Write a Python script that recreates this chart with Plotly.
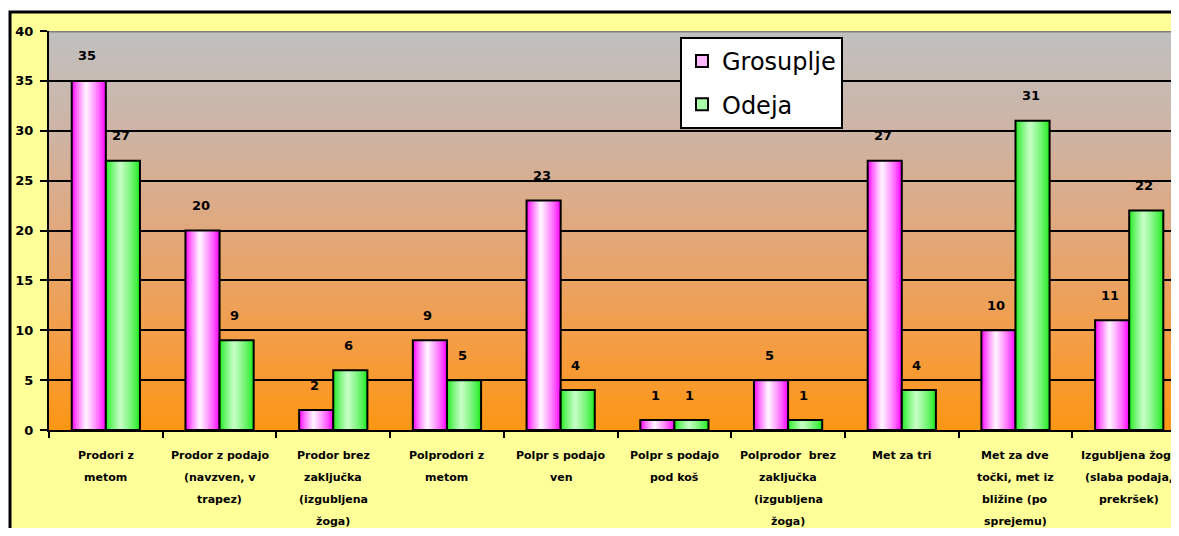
import plotly.graph_objs as go

# Category labels (one list of lines per category)
label_lines = [
    ["Prodori z", "metom"],
    ["Prodor z podajo", "(navzven, v", "trapez)"],
    ["Prodor brez", "zaključka", "(izgubljena", "žoga)"],
    ["Polprodori z", "metom"],
    ["Polpr s podajo", "ven"],
    ["Polpr s podajo", "pod koš"],
    ["Polprodor  brez", "zaključka", "(izgubljena", "žoga)"],
    ["Met za tri"],
    ["Met za dve", "točki, met iz", "bližine (po", "sprejemu)"],
    ["Izgubljena žoga", "(slaba podaja,", "prekršek)"],
]
categories = [" ".join(lines) for lines in label_lines]

grosuplje = [35, 20, 2, 9, 23, 1, 5, 27, 10, 11]
odeja = [27, 9, 6, 5, 4, 1, 1, 4, 31, 22]

y_ticks = [0, 5, 10, 15, 20, 25, 30, 35, 40]

BAR_W = 0.30
N_LAYERS = 14


def mix(c1, c2, t):
    return tuple(round(a + (b - a) * t) for a, b in zip(c1, c2))


def rgb(c):
    return "rgb(%d,%d,%d)" % c


fig = go.Figure()


def add_gradient_bars(values, center, edge_col, mid_col, name, legend_col):
    left = center - BAR_W / 2
    right = center + BAR_W / 2
    for k in range(N_LAYERS):
        t = k / N_LAYERS
        l = left + t * 0.42 * BAR_W
        r = right - t * 0.58 * BAR_W
        fig.add_trace(go.Bar(
            x=categories, y=values,
            offset=l, width=r - l,
            marker=dict(color=rgb(mix(edge_col, mid_col, t ** 0.8)), line=dict(width=0)),
            showlegend=False, hoverinfo='skip'
        ))
    # outline on top
    fig.add_trace(go.Bar(
        x=categories, y=values,
        offset=left, width=BAR_W,
        marker=dict(color='rgba(0,0,0,0)', line=dict(color='black', width=2)),
        showlegend=False, name=name
    ))
    # legend entry
    fig.add_trace(go.Bar(
        x=[None], y=[None], name=name, legendgroup=name,
        marker=dict(color=legend_col, line=dict(color='black', width=2))
    ))


add_gradient_bars(grosuplje, -0.15, (255, 0, 255), (255, 255, 255), 'Grosuplje', '#FFB8FF')
add_gradient_bars(odeja, 0.15, (30, 235, 30), (205, 255, 205), 'Odeja', '#A8FFA8')

# background: yellow chart area with border, gradient plot area
shapes = [dict(type='rect', xref='paper', yref='paper',
               x0=-0.0345, x1=1.1, y0=-0.4, y1=1.0476,
               fillcolor='#FFFF99', line=dict(color='black', width=3), layer='below')]

stops = [(0.0, (252, 150, 20)), (0.25, (242, 158, 75)), (0.5, (225, 168, 125)),
         (0.75, (206, 180, 165)), (1.0, (192, 192, 192))]


def grad(t):
    for (t0, c0), (t1, c1) in zip(stops[:-1], stops[1:]):
        if t <= t1:
            return mix(c0, c1, (t - t0) / (t1 - t0))
    return stops[-1][1]


n_bands = 80
step = 40 / n_bands
for j in range(n_bands):
    y0 = j * step
    y1 = min(40, y0 + 1.6 * step)
    shapes.append(dict(type='rect', xref='paper', yref='y', x0=0, x1=1, y0=y0, y1=y1,
                       fillcolor=rgb(grad((j + 0.5) / n_bands)), line=dict(width=0),
                       layer='below'))

shapes.append(dict(type='line', xref='paper', yref='y', x0=0, x1=1, y0=40, y1=40,
                   line=dict(color='#808080', width=3)))

annotations = []
num_font = dict(family='DejaVu Sans', size=13, color='black', weight='bold')
for i, v in enumerate(grosuplje):
    annotations.append(dict(x=i - 0.15, y=v, xref='x', yref='y', text=str(v),
                            showarrow=False, yanchor='middle', yshift=25, xshift=-2,
                            font=num_font))
for i, v in enumerate(odeja):
    annotations.append(dict(x=i + 0.15, y=v, xref='x', yref='y', text=str(v),
                            showarrow=False, yanchor='middle', yshift=25, xshift=-2,
                            font=num_font))

cat_font = dict(family='DejaVu Sans', size=11, color='black', weight='bold')
for i, lines in enumerate(label_lines):
    for k, line in enumerate(lines):
        annotations.append(dict(x=i, y=0, xref='x', yref='paper', text=line,
                                showarrow=False, yanchor='top', yshift=-(17 + 22 * k),
                                font=cat_font))

fig.update_layout(
    width=1171, height=520,
    margin=dict(l=41, r=0, t=23, b=98),
    barmode='overlay',
    paper_bgcolor='white',
    plot_bgcolor='rgba(0,0,0,0)',
    shapes=shapes,
    annotations=annotations,
    showlegend=True,
    legend=dict(x=0.5584, y=0.985, xanchor='left', yanchor='top',
                bgcolor='white', bordercolor='black', borderwidth=2,
                font=dict(family='DejaVu Sans', size=24, color='black'),
                tracegroupgap=9, traceorder='grouped'),
    xaxis=dict(type='category', categoryorder='array', categoryarray=categories,
               range=[-0.5, 9.438], showticklabels=False, showgrid=False,
               ticks='outside', tickson='boundaries', ticklen=6, tickwidth=2,
               tickcolor='black', showline=True, linecolor='black', linewidth=2),
    yaxis=dict(range=[0, 40], tickvals=y_ticks, ticks='outside', ticklen=7, tickwidth=2,
               tickcolor='black', showline=True, linecolor='black', linewidth=2,
               showgrid=True, gridcolor='black', gridwidth=2, zeroline=False,
               ticklabelstandoff=4,
               tickfont=dict(family='DejaVu Sans', size=13, color='black', weight='bold')),
)

fig.write_html("out.html")
